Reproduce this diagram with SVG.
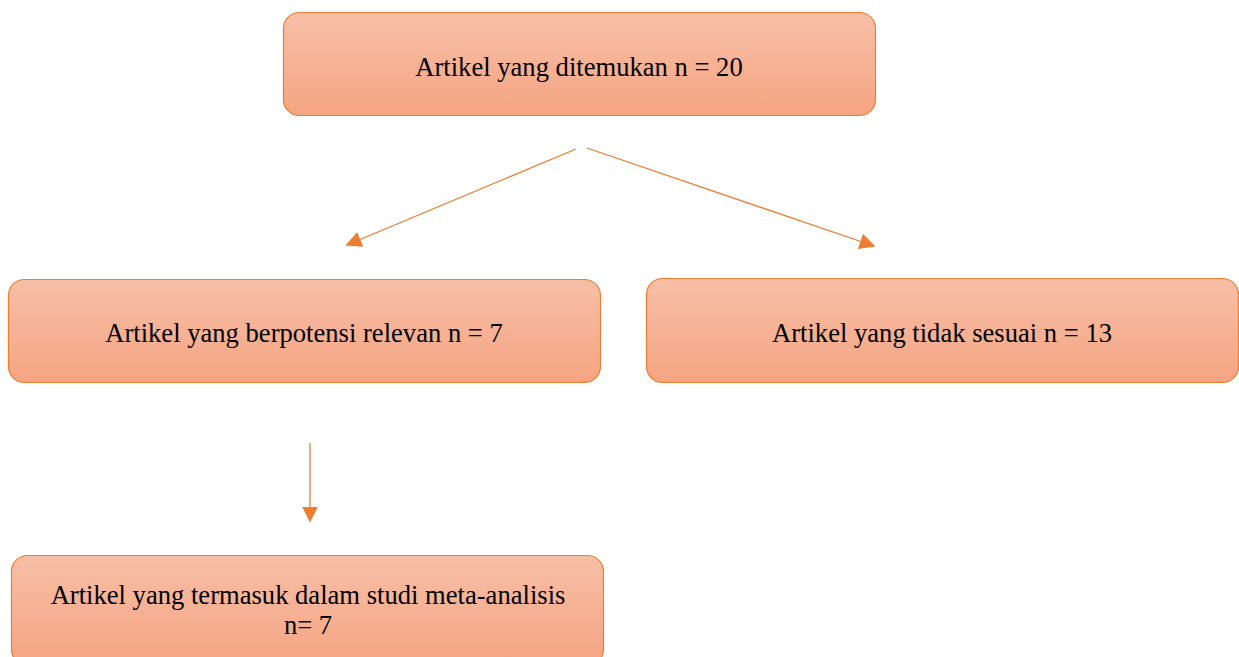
<svg xmlns="http://www.w3.org/2000/svg" width="1239" height="657" viewBox="0 0 1239 657">
<style>
.box{fill:url(#g);stroke:#ed7d31;stroke-width:1.2}
.t{font-family:"Liberation Serif","Times New Roman",serif;font-size:26.6px;fill:#000;text-anchor:middle}
.c{stroke:#ed7d31;stroke-width:1.3;fill:none;marker-end:url(#a)}
</style>
<defs>
<linearGradient id="g" x1="0" y1="0" x2="0" y2="1">
<stop offset="0" stop-color="#f7bfa7"/>
<stop offset="1" stop-color="#f5a482"/>
</linearGradient>
<marker id="a" viewBox="0 0 10 10" refX="9" refY="5" markerUnits="userSpaceOnUse" markerWidth="16" markerHeight="16" orient="auto">
<path d="M0,0 L10,5 L0,10 z" fill="#ed7d31"/>
</marker>
</defs>
<g id="n1"><rect class="box" x="283.5" y="12.5" width="592" height="103" rx="16"/><text class="t" x="579" y="76">Artikel yang ditemukan n = 20</text></g>
<g id="n2"><rect class="box" x="8.5" y="279.5" width="592" height="103" rx="16"/><text class="t" x="304" y="342">Artikel yang berpotensi relevan n = 7</text></g>
<g id="n3"><rect class="box" x="646.5" y="278.5" width="592" height="104" rx="16"/><text class="t" x="942" y="342">Artikel yang tidak sesuai n = 13</text></g>
<g id="n4"><rect class="box" x="11.5" y="555.5" width="592" height="110" rx="16"/><text class="t" x="308" y="604">Artikel yang termasuk dalam studi meta-analisis</text><text class="t" x="308" y="634">n= 7</text></g>
<g id="connectors">
<line class="c" x1="576" y1="149" x2="347" y2="245"/>
<line class="c" x1="587" y1="148" x2="874" y2="246"/>
<line class="c" x1="310" y1="443" x2="310" y2="521"/>
</g>
</svg>
